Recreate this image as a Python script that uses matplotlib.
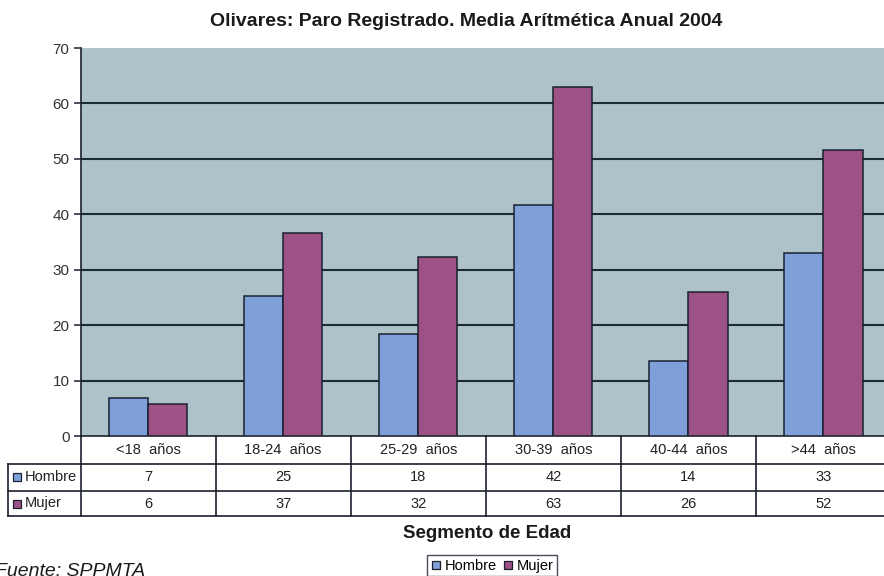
import matplotlib.pyplot as plt
from matplotlib.lines import Line2D
import numpy as np

plt.rcParams['font.family'] = ['Liberation Sans', 'DejaVu Sans']

# data
categories = ['<18  años', '18-24  años', '25-29  años', '30-39  años', '40-44  años', '>44  años']
series = ['Hombre', 'Mujer']
hombre = [6.9, 25.3, 18.4, 41.6, 13.6, 33.1]
mujer = [5.8, 36.6, 32.3, 63.0, 26.0, 51.6]
yticks = [0, 10, 20, 30, 40, 50, 60, 70]

c_hombre = '#7f9fd8'
c_mujer = '#9c5284'
c_edge = '#1b2030'
c_bg = '#aec3c9'
c_grid = '#1c2b33'
c_text = '#222222'

W, H = 884, 576
fig = plt.figure(figsize=(W / 100, H / 100), dpi=100)

# main plot area (runs a bit past the right edge like the source)
left, right, top, bottom = 80.5, 891, 48, 436
ax = fig.add_axes([left / W, 1 - bottom / H, (right - left) / W, (bottom - top) / H])
ax.set_facecolor(c_bg)

x = np.arange(len(categories))
w = 0.29
ax.bar(x - w / 2, hombre, w, color=c_hombre, edgecolor=c_edge, linewidth=1.1, zorder=3)
ax.bar(x + w / 2, mujer, w, color=c_mujer, edgecolor=c_edge, linewidth=1.1, zorder=3)

ax.set_xlim(-0.5, len(categories) - 0.5)
ax.set_ylim(0, 70)
ax.set_yticks(yticks)
ax.set_xticks([])
for v in yticks[1:-1]:
    ax.axhline(v, color=c_grid, lw=1.5, zorder=1)
ax.tick_params(axis='y', length=5, width=1.1, color=c_edge, labelsize=11,
               labelcolor='#333333', pad=3)
for s in ['top', 'right']:
    ax.spines[s].set_visible(False)
for s in ['left', 'bottom']:
    ax.spines[s].set_color(c_edge)
    ax.spines[s].set_linewidth(1.2)

# data table under the plot
tb_bottom = 516
tab = fig.add_axes([left / W, 1 - tb_bottom / H, (right - left) / W, (tb_bottom - bottom) / H])
tab.set_xlim(-0.5, len(categories) - 0.5)
tab.set_ylim(tb_bottom - bottom, 0)
tab.axis('off')

px_per_unit = (right - left) / len(categories)
xl = -0.5 - (left - 8) / px_per_unit
rows = [0, 27.5, 55, 80]
lk = dict(color=c_edge, lw=1.2, clip_on=False, solid_capstyle='projecting')
for r in rows[1:]:
    tab.plot([xl, len(categories) - 0.5], [r, r], **lk)
for k in range(len(categories) + 1):
    tab.plot([k - 0.5, k - 0.5], [0, rows[-1]], **lk)
tab.plot([xl, xl], [rows[1], rows[-1]], **lk)

for i, cat in enumerate(categories):
    tab.text(i, (rows[0] + rows[1]) / 2, cat, ha='center', va='center', fontsize=10.5, color=c_text)
for j, (name, vals, col) in enumerate(zip(series, [hombre, mujer], [c_hombre, c_mujer])):
    yc = (rows[j + 1] + rows[j + 2]) / 2
    for i, v in enumerate(vals):
        tab.text(i, yc, f'{v:.0f}', ha='center', va='center', fontsize=10.5, color=c_text)
    tab.plot([xl + 9 / px_per_unit], [yc], marker='s', ms=6, mfc=col, mec=c_edge,
             mew=0.9, clip_on=False)
    tab.text(xl + 16.5 / px_per_unit, yc, name, ha='left', va='center', fontsize=10.5, color=c_text)

fig.text(466 / W, 1 - 22 / H, 'Olivares: Paro Registrado. Media Arítmética Anual 2004',
         ha='center', va='center', fontsize=14, fontweight='bold', color='#1a1a1a')
fig.text(487 / W, 1 - 533 / H, 'Segmento de Edad', ha='center', va='center',
         fontsize=13.5, fontweight='bold', color='#1a1a1a')
fig.text(-0.006, 1 - 572 / H, 'Fuente: SPPMTA', ha='left', va='center',
         fontsize=14, style='italic', color='#1a1a1a')

handles = [Line2D([], [], ls='none', marker='s', ms=6, mfc=c, mec=c_edge, mew=0.9)
           for c in [c_hombre, c_mujer]]
leg = fig.legend(handles, series, loc='upper left', bbox_to_anchor=(427 / W, 1 - 555 / H),
                 ncol=2, fontsize=10.5, frameon=True, fancybox=False, borderpad=0.25,
                 handlelength=0.7, handletextpad=0.25, columnspacing=0.4, borderaxespad=0)
leg.get_frame().set_edgecolor(c_edge)
leg.get_frame().set_linewidth(1.0)

fig.savefig('out.png', dpi=100)
